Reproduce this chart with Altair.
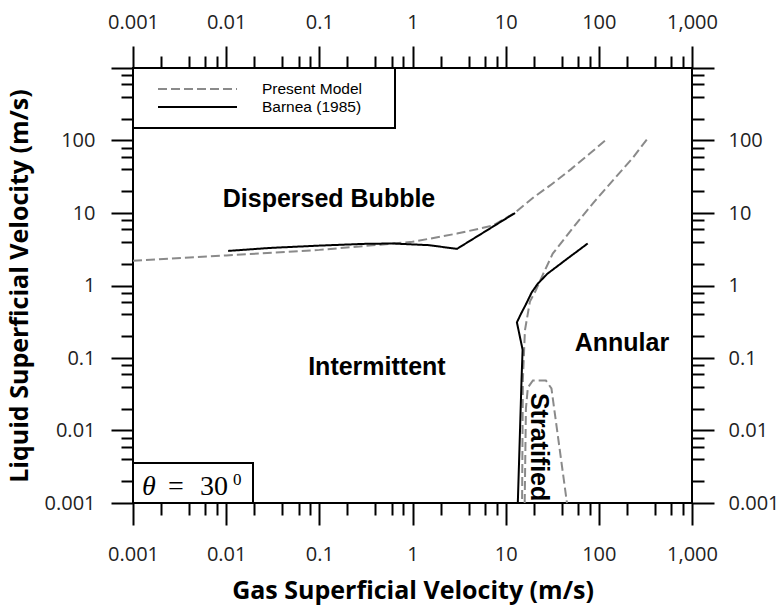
import altair as alt
import pandas as pd

# ---------------- data ----------------
# Present Model (dashed grey)
pm_db_x = [0.001, 0.01, 0.1, 0.45, 1.0, 3.0, 7.3, 12.6, 20, 30, 50, 80, 120]
pm_db_y = [2.2, 2.6, 3.1, 3.66, 4.0, 5.2, 6.7, 10.1, 16.5, 24, 40, 66, 103]

pm_ia_x = [327, 232, 141, 86, 53, 32, 25, 21, 18.2, 16.1, 15.3, 15.0]
pm_ia_y = [103, 58, 28, 13.5, 6.3, 2.75, 1.4, 0.85, 0.6, 0.24, 0.05, 0.001]

pm_st_x = [16.0, 16.5, 17.3, 19.6, 27, 31, 45.5]
pm_st_y = [0.001, 0.02, 0.039, 0.049, 0.049, 0.038, 0.001]

# Barnea (1985) (solid black)
bn_db_x = [0.0105, 0.03, 0.1, 0.3, 0.6, 1.5, 3.0, 12.6]
bn_db_y = [3.0, 3.3, 3.55, 3.75, 3.8, 3.6, 3.2, 10.0]

bn_ia_x = [76, 45, 28, 22, 19, 16.5, 14.5, 13.2, 15.2, 14.8, 13.5]
bn_ia_y = [3.8, 2.3, 1.45, 1.05, 0.8, 0.55, 0.4, 0.31, 0.13, 0.05, 0.001]

# region labels
region_text = ["Dispersed Bubble", "Intermittent", "Annular"]
region_x = [0.127, 0.415, 177]
region_y = [15.8, 0.0755, 0.162]
strat_text = ["Stratified"]
strat_x = [22.7]
strat_y = [0.0059]

legend_labels = ["Present Model", "Barnea (1985)"]
theta_parts = ["θ", "=", "30", "0"]

major_ticks = [0.001, 0.01, 0.1, 1, 10, 100, 1000]
minor_mults = [2, 4, 6, 8]

# ---------------- build tables ----------------
rows = []
def add(xs, ys, model, cid):
    for i, (a, b) in enumerate(zip(xs, ys)):
        rows.append({"x": a, "y": b, "model": model, "curve": cid, "order": i})

add(pm_db_x, pm_db_y, legend_labels[0], "pm_db")
add(pm_ia_x, pm_ia_y, legend_labels[0], "pm_ia")
add(pm_st_x, pm_st_y, legend_labels[0], "pm_st")
add(bn_db_x, bn_db_y, legend_labels[1], "bn_db")
add(bn_ia_x, bn_ia_y, legend_labels[1], "bn_ia")
df = pd.DataFrame(rows)

reg_df = pd.DataFrame({"x": region_x, "y": region_y, "label": region_text})
strat_df = pd.DataFrame({"x": strat_x, "y": strat_y, "label": strat_text})
one = pd.DataFrame({"a": [0]})

tick_vals = sorted(major_ticks + [float(f"{m}e{e}") for e in range(-3, 3) for m in minor_mults])
maj_list = "[" + ",".join(str(v) for v in major_ticks) + "]"
maj_list_y = "[" + ",".join(str(v) for v in major_ticks[:-1]) + "]"
major_test = f"indexof({maj_list}, datum.value) >= 0"

tick_size = {"condition": {"test": major_test, "value": 22}, "value": 12}

def axis(orient, title=None, label_list=maj_list, pad=16, tpad=12):
    kw = dict(
        orient=orient,
        values=tick_vals,
        format=",",
        labelExpr=f"indexof({label_list}, datum.value) >= 0 ? datum.label : ''",
        tickSize=tick_size,
        labelPadding=pad,
    )
    if title is not None:
        kw["title"] = title
        kw["titlePadding"] = tpad
    else:
        kw["title"] = None
    return alt.Axis(**kw)

xscale = alt.Scale(type="log", domain=[0.001, 1000], nice=False)
yscale = alt.Scale(type="log", domain=[0.001, 1000], nice=False)

color = alt.Color("model:N", legend=None,
                  scale=alt.Scale(domain=legend_labels, range=["#8a8a8a", "#000000"]))
dash = alt.StrokeDash("model:N", legend=None,
                      scale=alt.Scale(domain=legend_labels, range=[[9, 4], [1, 0]]))

lines = alt.Chart(df).mark_line(strokeWidth=2).encode(
    x=alt.X("x:Q", scale=xscale, axis=axis("bottom", "Gas Superficial Velocity (m/s)", pad=19, tpad=14)),
    y=alt.Y("y:Q", scale=yscale, axis=axis("left", "Liquid Superficial Velocity (m/s)", label_list=maj_list_y, pad=16, tpad=12)),
    color=color,
    strokeDash=dash,
    detail="curve:N",
    order="order:Q",
)

axes2 = alt.Chart(df).mark_point(opacity=0).encode(
    x=alt.X("x:Q", scale=xscale, axis=axis("top", None, pad=14)),
    y=alt.Y("y:Q", scale=yscale, axis=axis("right", None, label_list=maj_list_y, pad=14)),
)

regions = alt.Chart(reg_df).mark_text(
    font="Liberation Sans", fontWeight="bold", fontSize=25, color="black", baseline="middle"
).encode(
    x=alt.X("x:Q", scale=xscale, axis=None),
    y=alt.Y("y:Q", scale=yscale, axis=None),
    text="label:N",
)

strat = alt.Chart(strat_df).mark_text(
    font="Liberation Sans", fontWeight="bold", fontSize=25, color="black",
    baseline="middle", angle=90
).encode(
    x=alt.X("x:Q", scale=xscale, axis=None),
    y=alt.Y("y:Q", scale=yscale, axis=None),
    text="label:N",
)

# legend box (manual)
leg_box = alt.Chart(one).mark_rect(fill="white", stroke="black", strokeWidth=2).encode(
    x=alt.value(0), x2=alt.value(262), y=alt.value(0), y2=alt.value(60)
)
leg_l1 = alt.Chart(one).mark_rule(color="#8a8a8a", strokeWidth=2, strokeDash=[9, 4]).encode(
    x=alt.value(25), x2=alt.value(104), y=alt.value(21)
)
leg_l2 = alt.Chart(one).mark_rule(color="black", strokeWidth=2).encode(
    x=alt.value(25), x2=alt.value(104), y=alt.value(39)
)
leg_t1 = alt.Chart(one).mark_text(font="Liberation Sans", fontSize=15.5, align="left",
                                  baseline="middle", text=legend_labels[0]).encode(
    x=alt.value(129), y=alt.value(21))
leg_t2 = alt.Chart(one).mark_text(font="Liberation Sans", fontSize=15.5, align="left",
                                  baseline="middle", text=legend_labels[1]).encode(
    x=alt.value(129), y=alt.value(39))

# theta box
th_box = alt.Chart(one).mark_rect(fill="white", stroke="black", strokeWidth=2).encode(
    x=alt.value(0), x2=alt.value(120), y=alt.value(395), y2=alt.value(435)
)
th1 = alt.Chart(one).mark_text(font="Liberation Serif", fontSize=28, fontStyle="italic",
                               align="left", baseline="alphabetic", text=theta_parts[0]).encode(
    x=alt.value(9), y=alt.value(427))
th2 = alt.Chart(one).mark_text(font="Liberation Serif", fontSize=28,
                               align="left", baseline="alphabetic", text=theta_parts[1]).encode(
    x=alt.value(35), y=alt.value(427))
th3 = alt.Chart(one).mark_text(font="Liberation Serif", fontSize=28,
                               align="left", baseline="alphabetic", text=theta_parts[2]).encode(
    x=alt.value(67), y=alt.value(427))
th4 = alt.Chart(one).mark_text(font="Liberation Serif", fontSize=17,
                               align="left", baseline="alphabetic", text=theta_parts[3]).encode(
    x=alt.value(100), y=alt.value(417))

chart = alt.layer(
    lines, axes2, regions, strat,
    leg_box, leg_l1, leg_l2, leg_t1, leg_t2,
    th_box, th1, th2, th3, th4,
).resolve_axis(
    x="independent", y="independent"
).properties(
    width=559, height=435,
    padding={"left": 133, "top": 68, "right": 89, "bottom": 103},
    autosize=alt.AutoSizeParams(type="none"),
    background="white",
).configure_view(
    stroke="black", strokeWidth=2
).configure_axis(
    labelFont="Open Sans", labelFontSize=20, labelColor="#222222",
    titleFont="Open Sans", titleFontSize=25, titleFontWeight="bold", titleColor="black",
    grid=False, domain=False, tickColor="black", tickWidth=2,
    labelFlush=False, labelOverlap=False, labelBound=False,
)

chart.save("out.html", embed_options={"renderer": "svg", "actions": False})
